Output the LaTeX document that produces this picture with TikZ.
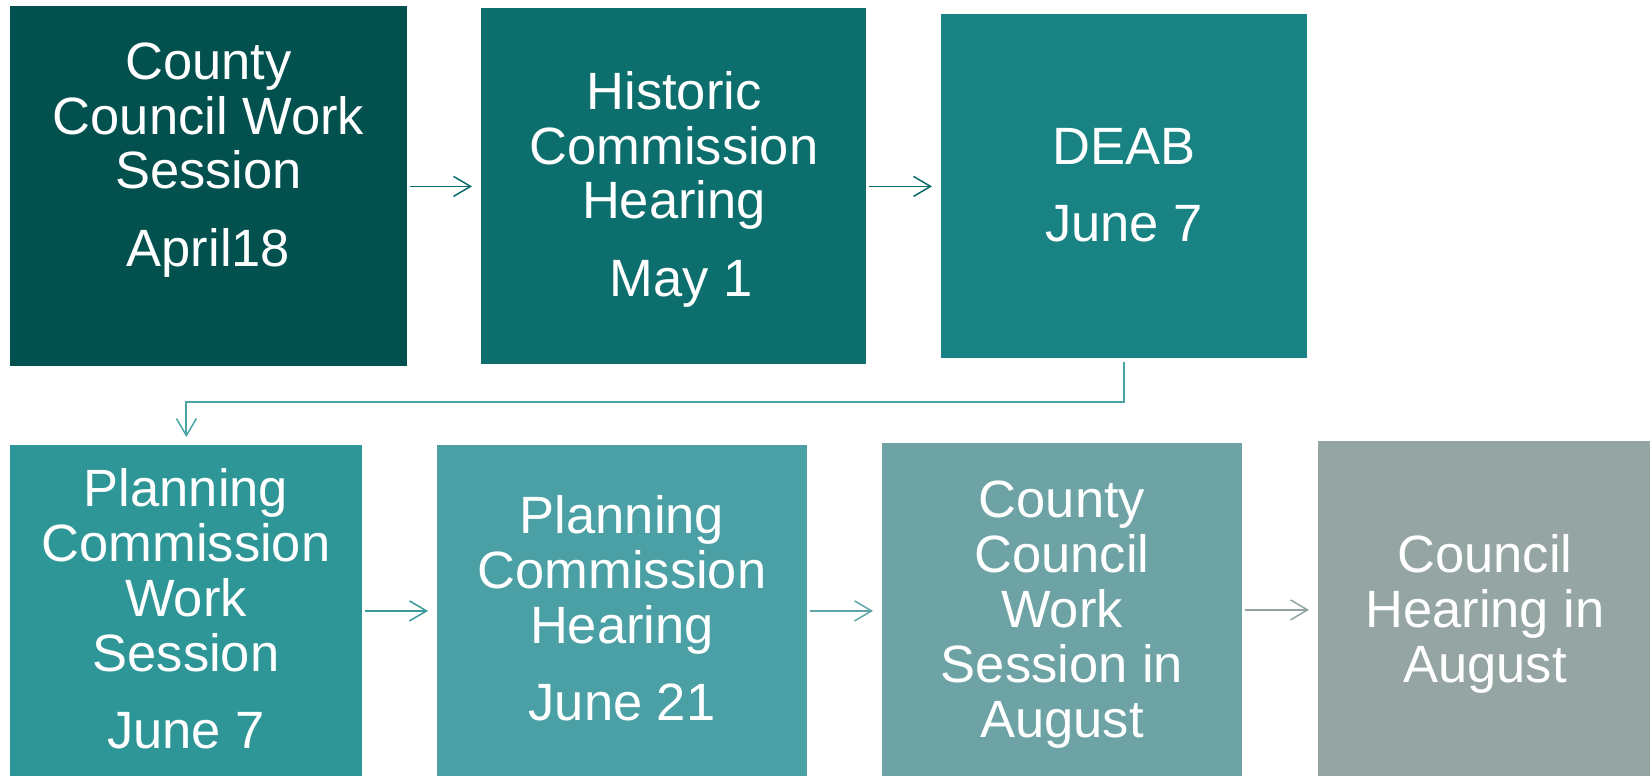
\documentclass[tikz,border=0pt]{standalone}
\usepackage{fontspec}
\setmainfont{Liberation Sans}
\usetikzlibrary{arrows.meta}
\definecolor{cA}{HTML}{02514F}
\definecolor{cB}{HTML}{0C6E6D}
\definecolor{cC}{HTML}{198384}
\definecolor{cD}{HTML}{2E9697}
\definecolor{cE}{HTML}{4AA0A4}
\definecolor{cF}{HTML}{6EA3A5}
\definecolor{cG}{HTML}{95A5A4}
\definecolor{aA}{HTML}{0C6B6B}
\definecolor{aB}{HTML}{4BA5A7}
\definecolor{aC}{HTML}{3A9A9B}
\definecolor{aD}{HTML}{5EA6A8}
\definecolor{aE}{HTML}{8FA3A3}
\newcommand{\lines}[1]{\setlength{\tabcolsep}{0pt}\begin{tabular}[t]{c}#1\end{tabular}}
\tikzset{
  stagebox/.style={rectangle, draw=none, inner sep=0pt, anchor=north west},
  stagetext/.style={anchor=base, inner sep=0pt, text=white, font=\fontsize{26.25pt}{27.5pt}\selectfont},
  flowarrow/.style={line width=0.75pt, -{Straight Barb[length=8.5pt, width=10pt, line width=0.75pt]}, shorten <=1pt, shorten >=4.5pt}
}
\begin{document}
\begin{tikzpicture}[x=0.5pt, y=-0.5pt]
\useasboundingbox (0,0) rectangle (1650,776);
% boxes
\node[stagebox, fill=cA, minimum width=198.5pt, minimum height=180pt] (b1) at (10,6) {};
\node[stagebox, fill=cB, minimum width=192.5pt, minimum height=178pt] (b2) at (481,8) {};
\node[stagebox, fill=cC, minimum width=183pt, minimum height=172pt] (b3) at (941,14) {};
\node[stagebox, fill=cD, minimum width=176pt, minimum height=165.5pt] (b4) at (10,445) {};
\node[stagebox, fill=cE, minimum width=185pt, minimum height=165.5pt] (b5) at (437,445) {};
\node[stagebox, fill=cF, minimum width=180pt, minimum height=166.5pt] (b6) at (882,443) {};
\node[stagebox, fill=cG, minimum width=166pt, minimum height=167.5pt] (b7) at (1318,441) {};
% texts
\node[stagetext] (t1) at (208.5,79) {\lines{County\\Council Work\\Session\\[11pt]April18}};
\node[stagetext] (t2) at (674,109) {\lines{Historic\\Commission\\Hearing\\[11pt]\ May 1}};
\node[stagetext] (t3) at (1124,164) {\lines{DEAB\\[11pt]June 7}};
\node[stagetext] (t4) at (186,506) {\lines{Planning\\Commission\\Work\\Session\\[11pt]June 7}};
\node[stagetext] (t5) at (622,533) {\lines{Planning\\Commission\\Hearing\\[11pt]June 21}};
\node[stagetext] (t6) at (1062,517) {\lines{County\\Council\\Work\\Session in\\August}};
\node[stagetext] (t7) at (1485,572) {\lines{Council\\Hearing in\\August}};
% connectors
\draw[flowarrow, draw=aA] (b1.east) -- (b2.west);
\draw[flowarrow, draw=aA] (b2.east) -- (b3.west);
\draw[flowarrow, draw=aB, line width=1pt, shorten <=1.5pt, shorten >=4pt] (b3.south) -- ++(0,43) -| (b4.north);
\draw[flowarrow, draw=aC] (b4.east) -- (b5.west);
\draw[flowarrow, draw=aD] (b5.east) -- (b5.east -| b6.west);
\draw[flowarrow, draw=aE] (b6.east) -- (b6.east -| b7.west);
\end{tikzpicture}
\end{document}
